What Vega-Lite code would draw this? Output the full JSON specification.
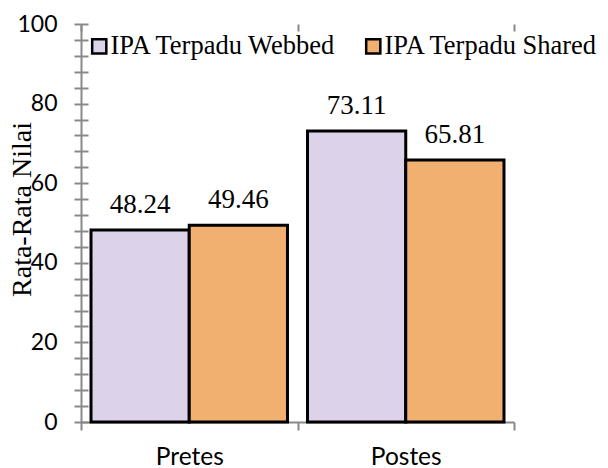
{
  "$schema": "https://vega.github.io/schema/vega-lite/v6.json",
  "width": 433,
  "height": 398,
  "autosize": {"type": "none"},
  "padding": {"left": 81, "top": 24, "right": 94, "bottom": 46},
  "background": "white",
  "config": {"view": {"stroke": null}},
  "data": {"values": [
    {"tes": "Pretes", "kelompok": "IPA Terpadu Webbed", "nilai": 48.24},
    {"tes": "Pretes", "kelompok": "IPA Terpadu Shared", "nilai": 49.46},
    {"tes": "Postes", "kelompok": "IPA Terpadu Webbed", "nilai": 73.11},
    {"tes": "Postes", "kelompok": "IPA Terpadu Shared", "nilai": 65.81}
  ]},
  "encoding": {
    "x": {
      "field": "tes", "type": "nominal", "sort": ["Pretes", "Postes"],
      "scale": {"paddingInner": 0, "paddingOuter": 0},
      "axis": {
        "title": null, "labelAngle": 0, "tickBand": "extent",
        "domainColor": "#898989", "domainWidth": 2,
        "tickColor": "#898989", "tickWidth": 2, "tickSize": 8,
        "grid": true, "gridColor": "#898989", "gridWidth": 2, "gridDash": [7, 1000],
        "labelFont": "Lato", "labelFontSize": 24.5, "labelColor": "black", "labelPadding": 15
      }
    },
    "xOffset": {
      "field": "kelompok", "type": "nominal", "sort": ["IPA Terpadu Webbed", "IPA Terpadu Shared"],
      "scale": {"paddingInner": 0, "paddingOuter": 0.102}
    },
    "y": {
      "field": "nilai", "type": "quantitative",
      "scale": {"domain": [0, 100], "nice": false},
      "axis": {
        "title": "Rata-Rata Nilai",
        "titleFont": "'Liberation Serif', 'DejaVu Serif', serif", "titleFontSize": 28, "titleFontWeight": "normal", "titleColor": "black",
        "titleAngle": -90, "titleX": -59, "titleY": 185, "titleAlign": "center", "titleBaseline": "middle",
        "values": [0,4,8,12,16,20,24,28,32,36,40,44,48,52,56,60,64,68,72,76,80,84,88,92,96,100],
        "labelExpr": "datum.value % 20 === 0 ? datum.label : ''",
        "domainColor": "#898989", "domainWidth": 2,
        "tickColor": "#898989", "tickWidth": 2, "tickSize": 7,
        "grid": true, "gridColor": "#898989", "gridWidth": 2, "gridDash": [7, 1000],
        "labelFont": "Lato", "labelFontSize": 23, "labelColor": "black", "labelPadding": 17
      }
    }
  },
  "layer": [
    {
      "mark": {"type": "bar", "stroke": "black", "strokeWidth": 3},
      "encoding": {
        "fill": {
          "field": "kelompok", "type": "nominal", "sort": ["IPA Terpadu Webbed", "IPA Terpadu Shared"],
          "scale": {"range": ["#dcd3ea", "#f2b070"]},
          "legend": {
            "title": null, "orient": "none", "direction": "horizontal",
            "legendX": 5, "legendY": 9, "padding": 0,
            "symbolType": "square", "symbolSize": 200, "symbolStrokeColor": "black", "symbolStrokeWidth": 2.5,
            "symbolOpacity": 1,
            "labelFont": "'Liberation Serif', 'DejaVu Serif', serif", "labelFontSize": 26.5, "labelColor": "black",
            "labelOffset": -2, "columnPadding": 23, "labelLimit": 400
          }
        }
      }
    },
    {
      "mark": {"type": "text", "baseline": "alphabetic", "dy": -17, "font": "'Liberation Serif', 'DejaVu Serif', serif", "fontSize": 27, "color": "black"},
      "encoding": {"text": {"field": "nilai", "type": "quantitative", "format": ".2f"}}
    }
  ]
}
